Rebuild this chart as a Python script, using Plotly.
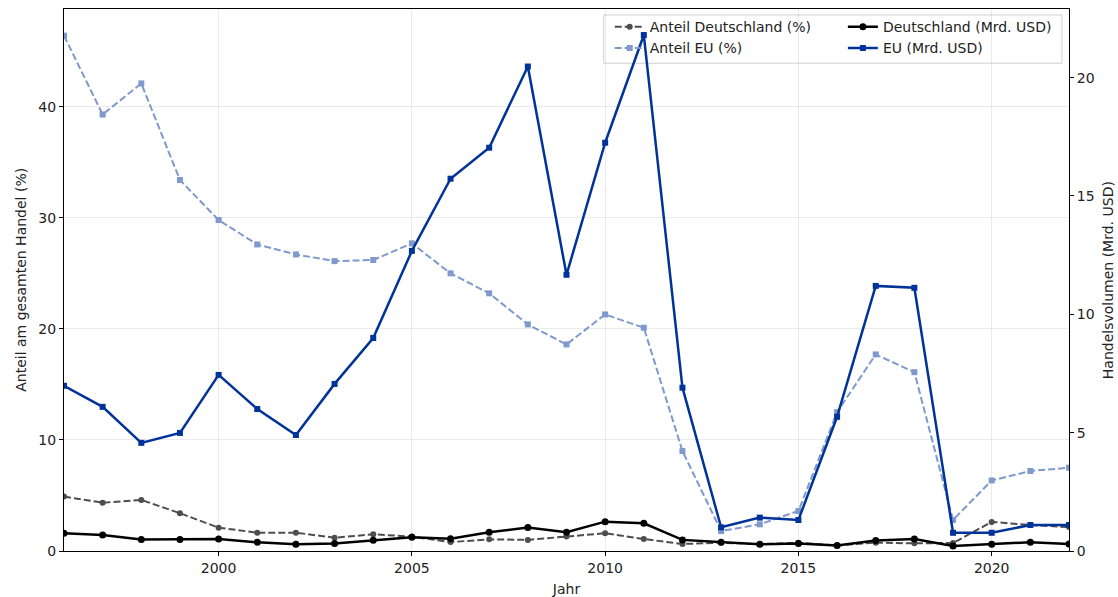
import plotly.graph_objects as go

years = list(range(1996, 2023))

anteil_de = [4.9, 4.35, 4.6, 3.4, 2.1, 1.65, 1.65, 1.2, 1.5, 1.3, 0.8, 1.05, 1.0, 1.3,
             1.6, 1.08, 0.63, 0.75, 0.6, 0.75, 0.5, 0.75, 0.69, 0.72, 2.62, 2.34, 2.15]
anteil_eu = [46.4, 39.3, 42.1, 33.4, 29.8, 27.6, 26.7, 26.1, 26.2, 27.7, 25.0, 23.2, 20.4, 18.6,
             21.3, 20.1, 9.0, 1.8, 2.4, 3.6, 12.5, 17.7, 16.1, 2.8, 6.35, 7.2, 7.5]
de_usd = [0.75, 0.68, 0.49, 0.49, 0.51, 0.37, 0.28, 0.32, 0.45, 0.58, 0.52, 0.79, 0.99, 0.79,
          1.24, 1.17, 0.47, 0.37, 0.28, 0.32, 0.23, 0.44, 0.51, 0.21, 0.28, 0.37, 0.30]
eu_usd = [6.98, 6.09, 4.57, 4.99, 7.44, 6.0, 4.9, 7.06, 9.0, 12.68, 15.73, 17.04, 20.47, 11.67,
          17.25, 21.8, 6.9, 1.0, 1.41, 1.31, 5.67, 11.2, 11.12, 0.77, 0.77, 1.1, 1.1]

FONT = "DejaVu Sans, Arial, sans-serif"
C_DE_SHARE = "#4d4d4d"
C_EU_SHARE = "#7f99cc"
C_DE = "#000000"
C_EU = "#003399"

fig = go.Figure()
fig.add_trace(go.Scatter(
    x=years, y=anteil_de, name="Anteil Deutschland (%)", mode="lines+markers",
    line=dict(color=C_DE_SHARE, width=2, dash="7px,3px"),
    marker=dict(symbol="circle", size=6, color=C_DE_SHARE),
    legend="legend",
))
fig.add_trace(go.Scatter(
    x=years, y=anteil_eu, name="Anteil EU (%)", mode="lines+markers",
    line=dict(color=C_EU_SHARE, width=2, dash="7px,3px"),
    marker=dict(symbol="square", size=6, color=C_EU_SHARE),
    legend="legend",
))
fig.add_trace(go.Scatter(
    x=years, y=de_usd, name="Deutschland (Mrd. USD)", mode="lines+markers",
    line=dict(color=C_DE, width=2.5),
    marker=dict(symbol="circle", size=7, color=C_DE),
    yaxis="y2", legend="legend2",
))
fig.add_trace(go.Scatter(
    x=years, y=eu_usd, name="EU (Mrd. USD)", mode="lines+markers",
    line=dict(color=C_EU, width=2.5),
    marker=dict(symbol="square", size=6, color=C_EU),
    yaxis="y2", legend="legend2",
))

axis_common = dict(
    showline=True, linecolor="black", linewidth=1,
    ticks="outside", ticklen=4, tickcolor="black",
    tickfont=dict(family=FONT, size=14, color="#222"),
    zeroline=False, automargin=False,
)

legend_style = dict(
    bgcolor="rgba(0,0,0,0)", borderwidth=0,
    font=dict(family=FONT, size=14, color="#222"),
    yanchor="top", xanchor="left", tracegroupgap=0, itemwidth=30,
)

title_font = dict(family=FONT, size=14, color="#222")

fig.update_layout(
    width=1118, height=597,
    paper_bgcolor="white", plot_bgcolor="white",
    margin=dict(l=64, r=49, t=9, b=46),
    font=dict(family=FONT, size=14, color="#222"),
    xaxis=dict(
        **axis_common, range=[1996, 2022], tickvals=[2000, 2005, 2010, 2015, 2020],
        mirror=True, showgrid=True, gridcolor="rgba(0,0,0,0.08)",
        title=dict(text="Jahr", font=title_font),
    ),
    yaxis=dict(
        **axis_common, range=[0, 48.8], tickvals=[0, 10, 20, 30, 40],
        showgrid=True, gridcolor="rgba(0,0,0,0.08)",
    ),
    yaxis2=dict(
        **axis_common, range=[0, 22.9], tickvals=[0, 5, 10, 15, 20],
        overlaying="y", side="right", showgrid=False,
    ),
    legend=dict(**legend_style, x=0.543, y=0.996),
    legend2=dict(**legend_style, x=0.775, y=0.996),
    shapes=[dict(
        type="rect", xref="paper", yref="paper",
        x0=0.537, x1=0.993, y0=0.900, y1=0.989,
        line=dict(color="#d0d0d0", width=1), fillcolor="rgba(255,255,255,0.85)",
        layer="below",
    )],
    annotations=[
        dict(text="Anteil am gesamten Handel (%)", xref="paper", yref="paper",
             x=-0.043, y=0.5, textangle=-90, showarrow=False,
             xanchor="center", yanchor="middle", font=title_font),
        dict(text="Handelsvolumen (Mrd. USD)", xref="paper", yref="paper",
             x=1.039, y=0.5, textangle=-90, showarrow=False,
             xanchor="center", yanchor="middle", font=title_font),
    ],
)

# page body has a default 8px margin; drop it so the figure sits at the corner
fig.write_html("out.html", config={"displayModeBar": False},
               post_script="document.body.style.margin='0';")
